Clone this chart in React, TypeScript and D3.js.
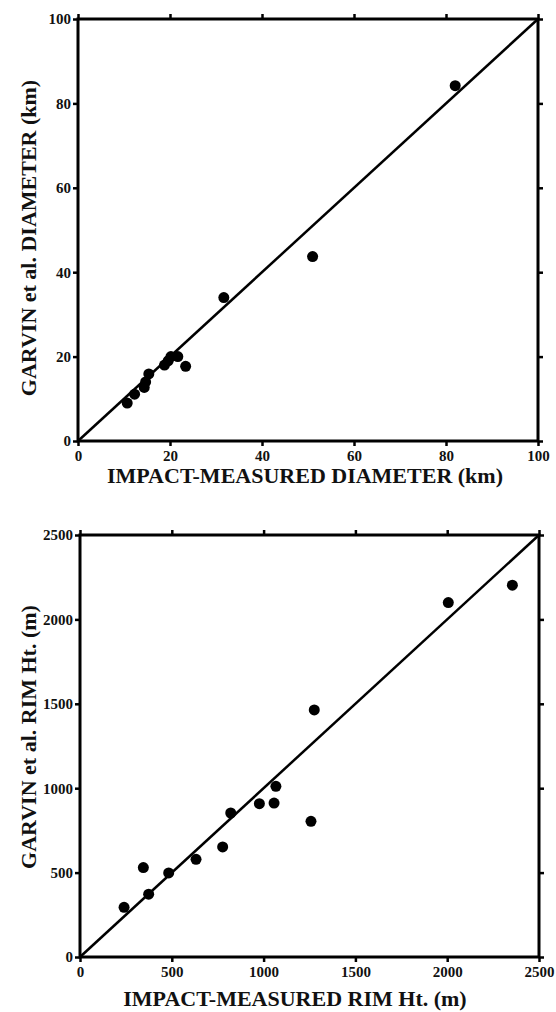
import React, { useEffect, useRef } from "react";
import * as d3 from "d3";

// top panel: crater diameters (km)
const diamImpact = [10.7, 12.3, 14.4, 14.7, 15.4, 18.8, 19.6, 20.2, 21.7, 23.4, 31.7, 51, 82];
const diamGarvin = [9.0, 11.1, 12.7, 14.0, 15.9, 18.0, 19.0, 20.0, 20.0, 17.7, 34.0, 43.7, 84.2];
const diamTicks = [0, 20, 40, 60, 80, 100];

// bottom panel: rim heights (m)
const rimImpact = [240, 345, 374, 483, 632, 777, 821, 977, 1057, 1067, 1258, 1276, 2006, 2355];
const rimGarvin = [294, 530, 372, 498, 579, 652, 853, 908, 912, 1011, 804, 1464, 2100, 2203];
const rimTicks = [0, 500, 1000, 1500, 2000, 2500];

const FONT = "'Liberation Serif', 'Times New Roman', serif";

const drawPanel = (svg, opts) => {
  const { left, right, top, bottom, max, ticks, xs, ys, xTitle, yTitle, xTitleX, xTitleY, yTitleY } = opts;
  const x = d3.scaleLinear().domain([0, max]).range([left, right]);
  const y = d3.scaleLinear().domain([0, max]).range([bottom, top]);
  const g = svg.append("g");

  const styleAxis = (sel) => {
    sel.select(".domain").remove();
    sel.selectAll(".tick line").attr("stroke", "#000").attr("stroke-width", 2.5);
    sel.selectAll(".tick text")
      .attr("fill", "#111")
      .style("font-family", FONT)
      .style("font-weight", "bold")
      .style("font-size", "15px");
  };

  g.append("g").attr("transform", `translate(0,${bottom})`)
    .call(d3.axisBottom(x).tickValues(ticks).tickSize(5).tickSizeOuter(0).tickPadding(4).tickFormat(d3.format("d")))
    .call(styleAxis);
  g.append("g").attr("transform", `translate(${left},0)`)
    .call(d3.axisLeft(y).tickValues(ticks).tickSize(5).tickSizeOuter(0).tickPadding(2).tickFormat(d3.format("d")))
    .call(styleAxis);
  g.append("g").attr("transform", `translate(0,${top})`)
    .call(d3.axisTop(x).tickValues(ticks).tickSize(5).tickSizeOuter(0).tickFormat(() => ""))
    .call(styleAxis);
  g.append("g").attr("transform", `translate(${right},0)`)
    .call(d3.axisRight(y).tickValues(ticks).tickSize(5).tickSizeOuter(0).tickFormat(() => ""))
    .call(styleAxis);

  // frame
  g.append("rect")
    .attr("x", left).attr("y", top)
    .attr("width", right - left).attr("height", bottom - top)
    .attr("fill", "none").attr("stroke", "#000").attr("stroke-width", 3);

  // 1:1 line
  g.append("line")
    .attr("x1", x(0)).attr("y1", y(0)).attr("x2", x(max)).attr("y2", y(max))
    .attr("stroke", "#000").attr("stroke-width", 2.5);

  g.selectAll("circle")
    .data(xs.map((v, i) => [v, ys[i]]))
    .enter()
    .append("circle")
    .attr("cx", (d) => x(d[0]))
    .attr("cy", (d) => y(d[1]))
    .attr("r", 5.5)
    .attr("fill", "#000");

  g.append("text")
    .attr("x", xTitleX).attr("y", xTitleY)
    .attr("text-anchor", "middle")
    .style("font-family", FONT).style("font-weight", "bold").style("font-size", "22px")
    .attr("fill", "#111")
    .text(xTitle);

  g.append("text")
    .attr("transform", `translate(36,${yTitleY}) rotate(-90)`)
    .attr("text-anchor", "middle")
    .style("font-family", FONT).style("font-weight", "bold").style("font-size", "22px")
    .attr("fill", "#111")
    .text(yTitle);
};

const App = () => {
  const ref = useRef(null);

  useEffect(() => {
    const svg = d3.select(ref.current);
    svg.selectAll("*").remove();

    drawPanel(svg, {
      left: 78, right: 538, top: 19, bottom: 441, max: 100, ticks: diamTicks,
      xs: diamImpact, ys: diamGarvin,
      xTitle: "IMPACT-MEASURED DIAMETER (km)", yTitle: "GARVIN et al. DIAMETER (km)",
      xTitleX: 305, xTitleY: 483, yTitleY: 238,
    });
    drawPanel(svg, {
      left: 80, right: 539, top: 535, bottom: 957, max: 2500, ticks: rimTicks,
      xs: rimImpact, ys: rimGarvin,
      xTitle: "IMPACT-MEASURED RIM Ht. (m)", yTitle: "GARVIN et al. RIM Ht. (m)",
      xTitleX: 295, xTitleY: 1006, yTitleY: 737,
    });
  }, []);

  return (
    <div style={{ position: "absolute", left: 0, top: 0 }}>
      <svg ref={ref} width={556} height={1012} style={{ display: "block", background: "#fff" }} />
    </div>
  );
};

export default App;
